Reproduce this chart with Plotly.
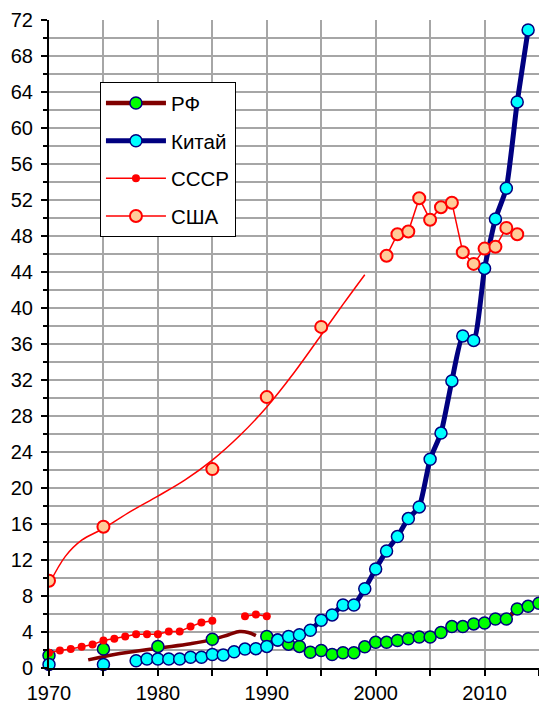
import plotly.graph_objects as go

years = list(range(1970, 2016))

china = [0.4, None, None, None, None, 0.4, None, None, 0.8, 1.0,
         1.0, 1.0, 1.0, 1.2, 1.2, 1.5, 1.45, 1.8, 2.1, 2.15,
         2.4, 3.1, 3.5, 3.7, 4.2, 5.3, 5.9, 7.0, 7.0, 8.8,
         11.0, 13.0, 14.6, 16.6, 17.9, 23.2, 26.1, 31.9, 36.9, 36.4,
         44.4, 49.9, 53.3, 62.9, 70.9, None]

rf = [1.4, None, None, None, None, 2.1, None, None, None, None,
      2.4, None, None, None, None, 3.2, None, None, None, None,
      3.5, 3.1, 2.65, 2.4, 1.75, 1.95, 1.5, 1.7, 1.7, 2.35,
      2.85, 2.85, 3.05, 3.25, 3.45, 3.45, 3.95, 4.6, 4.6, 4.9,
      5.0, 5.45, 5.45, 6.55, 6.85, 7.2]

ussr = [1.7, 1.95, 2.1, 2.35, 2.6, 3.05, 3.25, 3.5, 3.75, 3.75,
        3.75, 4.05, 4.05, 4.6, 5.05, 5.25, None, None, 5.75, 5.95,
        5.75] + [None] * 25

usa = [9.7, None, None, None, None, 15.7, None, None, None, None,
       None, None, None, None, None, 22.1, None, None, None, None,
       30.1, None, None, None, None, 37.9, None, None, None, None,
       None, 45.8, 48.2, 48.5, 52.2, 49.8, 51.2, 51.7, 46.2, 44.9,
       46.6, 46.8, 48.9, 48.2, None, None]

# trend lines
usa_trend_x = [1970, 1971.5, 1973, 1975, 1977.5, 1980, 1982.5, 1985, 1987.5, 1990, 1992.5, 1995, 1997, 1999]
usa_trend_y = [9.3, 12.4, 14.2, 15.5, 17.4, 19.1, 20.9, 23.1, 25.8, 29.0, 32.8, 37.0, 40.4, 43.7]

rf_trend_x = [1973.6, 1976, 1980, 1983, 1985, 1986.5, 1987.5, 1988.3, 1989]
rf_trend_y = [0.9, 1.5, 2.2, 2.7, 3.15, 3.7, 4.05, 3.95, 3.6]

NAVY = "#000080"
MAROON = "#800000"
RED = "#FF0000"
FONT = "Liberation Sans, Arial, sans-serif"

fig = go.Figure()

fig.add_trace(go.Scatter(x=usa_trend_x, y=usa_trend_y, mode="lines",
                         line=dict(color=RED, width=1.5, shape="spline"),
                         showlegend=False, hoverinfo="skip"))
fig.add_trace(go.Scatter(x=rf_trend_x, y=rf_trend_y, mode="lines",
                         line=dict(color=MAROON, width=3.5, shape="spline"),
                         showlegend=False, hoverinfo="skip"))

fig.add_trace(go.Scatter(x=years, y=rf, mode="lines+markers", name="РФ",
                         legendgroup="a",
                         line=dict(color=MAROON, width=4.5),
                         marker=dict(size=12, color="#00FF00", line=dict(color=NAVY, width=1.5)),
                         connectgaps=False, cliponaxis=False))
fig.add_trace(go.Scatter(x=years, y=china, mode="lines+markers", name="Китай",
                         legendgroup="b",
                         line=dict(color=NAVY, width=5, shape="spline", smoothing=0.5),
                         marker=dict(size=12, color="#00FFFF", line=dict(color=NAVY, width=1.5)),
                         connectgaps=False, cliponaxis=False))
fig.add_trace(go.Scatter(x=years, y=ussr, mode="lines+markers", name="СССР",
                         legendgroup="c",
                         line=dict(color=RED, width=1.5),
                         marker=dict(size=8, color=RED),
                         connectgaps=False))
fig.add_trace(go.Scatter(x=years, y=usa, mode="lines+markers", name="США",
                         legendgroup="d",
                         line=dict(color=RED, width=1.5),
                         marker=dict(size=12, color="#FFCC99", line=dict(color=RED, width=2)),
                         connectgaps=False))

GRID = "#A6A6A6"

fig.update_layout(
    width=539, height=704,
    margin=dict(l=49, r=0, t=20, b=36),
    paper_bgcolor="white", plot_bgcolor="white",
    font=dict(family=FONT, size=20, color="black"),
    legend=dict(x=0.104, y=0.904, xanchor="left", yanchor="top",
                bgcolor="white", bordercolor="black", borderwidth=1,
                font=dict(family=FONT, size=20.5, color="black"),
                tracegroupgap=8, traceorder="grouped", itemwidth=60),
    xaxis=dict(range=[1970, 2015], tick0=1970, dtick=10,
               ticks="outside", ticklen=6, tickwidth=2, tickcolor="black",
               showline=True, linecolor="black", linewidth=2,
               showgrid=True, gridcolor=GRID, gridwidth=2, zeroline=False,
               minor=dict(tick0=1970, dtick=5, ticks="outside", ticklen=6, tickwidth=2,
                          tickcolor="black", showgrid=True, gridcolor=GRID, gridwidth=2),
               tickfont=dict(family=FONT, size=20, color="black")),
    yaxis=dict(range=[0, 72], tick0=0, dtick=4,
               ticks="outside", ticklen=6, tickwidth=2, tickcolor="black",
               showline=True, linecolor="black", linewidth=2,
               showgrid=True, gridcolor=GRID, gridwidth=2, zeroline=False,
               ticklabelstandoff=4,
               minor=dict(tick0=0, dtick=2, ticks="outside", ticklen=4, tickwidth=2,
                          tickcolor="black", showgrid=True, gridcolor=GRID, gridwidth=2),
               tickfont=dict(family=FONT, size=20, color="black")),
)

fig.write_html("out.html", config={"displayModeBar": False},
               post_script="document.body.style.margin='0';document.body.style.overflow='hidden';")
